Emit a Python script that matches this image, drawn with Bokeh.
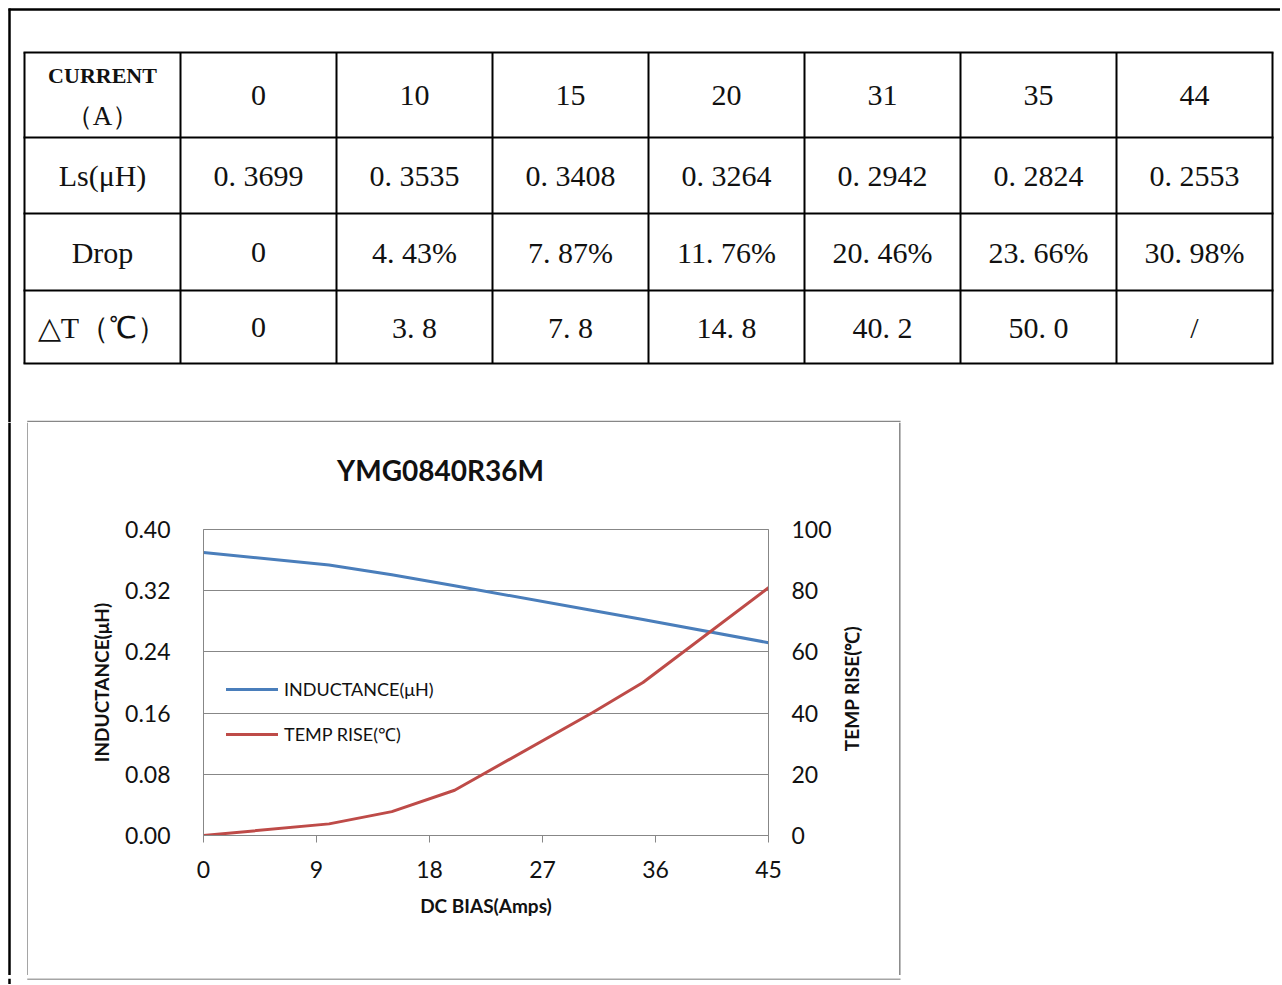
import math
from bokeh.plotting import figure
from bokeh.models import Range1d, LinearAxis, FixedTicker, NumeralTickFormatter
from bokeh.layouts import column, row
from bokeh.embed import file_html
from bokeh.resources import INLINE
from bokeh.core.properties import value

# ---------------- data (table) ----------------
current_A = [0, 10, 15, 20, 31, 35, 44]
ls_uH = [0.3699, 0.3535, 0.3408, 0.3264, 0.2942, 0.2824, 0.2553]
drop_pct = [0, 4.43, 7.87, 11.76, 20.46, 23.66, 30.98]
delta_T = [0, 3.8, 7.8, 14.8, 40.2, 50.0, None]
row_labels = ["Ls(μH)", "Drop", "△T（℃）"]

# ---------------- data (chart) ----------------
bias_A = [0, 10, 15, 20, 31, 35, 45]
inductance_uH = [0.3699, 0.3535, 0.3408, 0.3264, 0.2942, 0.2824, 0.2520]
temp_rise_C = [0, 3.8, 7.8, 14.8, 40.2, 50.0, 81.0]
x_ticks = [0, 9, 18, 27, 36, 45]
left_ticks = [0.0, 0.08, 0.16, 0.24, 0.32, 0.40]
right_ticks = [0, 20, 40, 60, 80, 100]
chart_title = "YMG0840R36M"
right_label = "TEMP RISE(℃)"


def fmt_ls(v):
    return f"{v:.4f}".replace(".", ". ")


def fmt_drop(v):
    return "0" if v == 0 else f"{v:.2f}%".replace(".", ". ")


def fmt_dt(v):
    if v is None:
        return "/"
    return "0" if v == 0 else f"{v:.1f}".replace(".", ". ")


def no_align(fig):
    if hasattr(fig, "frame_align"):
        fig.frame_align = False


def canvas_fig(x0, x1, y0, y1):
    """A blank figure whose data coordinates are page pixels (y downwards)."""
    f = figure(width=x1 - x0, height=y1 - y0, x_range=Range1d(x0, x1),
               y_range=Range1d(y1, y0), output_backend="svg",
               toolbar_location=None, min_border=0)
    f.axis.visible = False
    f.grid.visible = False
    f.outline_line_color = None
    f.background_fill_color = "white"
    f.border_fill_color = "white"
    no_align(f)
    return f


GRAY = "#878787"
FONT = "Lato"
PAGE_W = 1280
TOP_H = 422          # table block height
TITLE_B = 500        # bottom of the chart-title strip
CHART_B = 975        # bottom of the chart block
BOT_H = 9
BOX_L, BOX_R, BOX_T, BOX_B = 27.5, 899.3, 421, 975.5   # chart-area border (page px)

# ---------------- table block ----------------
tp = canvas_fig(0, PAGE_W, 0, TOP_H)
tp.segment(x0=[8, 9], y0=[9, 8], x1=[PAGE_W, 9], y1=[9, TOP_H],
           line_color="black", line_width=2.5)
tp.segment(x0=[BOX_L - 0.75], y0=[BOX_T], x1=[BOX_R + 0.75], y1=[BOX_T],
           line_color=GRAY, line_width=1.5)

col_x = [24 + 156 * i for i in range(9)]
row_y = [52, 137, 213, 290, 363]
tp.segment(x0=col_x, y0=[row_y[0]] * len(col_x), x1=col_x, y1=[row_y[-1]] * len(col_x),
           line_color="black", line_width=2)
tp.segment(x0=[col_x[0] - 1] * len(row_y), y0=row_y, x1=[col_x[-1] + 1] * len(row_y), y1=row_y,
           line_color="black", line_width=2)

xs, ys, txt = [], [], []
rows = [[str(c) for c in current_A],
        [fmt_ls(v) for v in ls_uH],
        [fmt_drop(v) for v in drop_pct],
        [fmt_dt(v) for v in delta_T]]
for r, vals in enumerate(rows):
    yc = (row_y[r] + row_y[r + 1]) / 2
    for c, t in enumerate(vals):
        xs.append((col_x[c + 1] + col_x[c + 2]) / 2)
        ys.append(yc)
        txt.append(t)
for r, lab in enumerate(row_labels):
    xs.append((col_x[0] + col_x[1]) / 2)
    ys.append((row_y[r + 1] + row_y[r + 2]) / 2)
    txt.append(lab)
tp.text(x=xs, y=ys, text=txt, text_align="center", text_baseline="middle",
        text_font=value("Liberation Serif"), text_font_size="30px", text_color="#111111")
hx = (col_x[0] + col_x[1]) / 2
tp.text(x=[hx], y=[75], text=["CURRENT"], text_align="center", text_baseline="middle",
        text_font=value("Liberation Serif"), text_font_size="22px",
        text_font_style="bold", text_color="#111111")
tp.text(x=[hx], y=[115], text=["（A）"], text_align="center", text_baseline="middle",
        text_font=value("Liberation Serif"), text_font_size="27px", text_color="#111111")

# ---------------- left strip (frame line + chart border left) ----------------
SP_R = 28
sp = canvas_fig(0, SP_R, TOP_H, CHART_B)
sp.segment(x0=[9, BOX_L], y0=[TOP_H, TOP_H], x1=[9, BOX_L], y1=[CHART_B, CHART_B],
           line_color=["black", GRAY], line_width=[2.5, 1.5])

# ---------------- chart title strip ----------------
P_R = 835
tf = canvas_fig(SP_R, P_R, TOP_H, TITLE_B)
tf.text(x=[440], y=[469], text=[chart_title], text_align="center", text_baseline="middle",
        text_font=value(FONT), text_font_size="28px", text_font_style="bold",
        text_color="#111111")

# ---------------- chart ----------------
FRAME_L, FRAME_R, FRAME_T, FRAME_B = 203, 768, 529, 835
p = figure(frame_width=FRAME_R - FRAME_L, frame_height=FRAME_B - FRAME_T,
           x_range=Range1d(0, 45), y_range=Range1d(0, 0.40),
           output_backend="svg", toolbar_location=None,
           min_border_left=FRAME_L - SP_R, min_border_right=P_R - FRAME_R,
           min_border_top=FRAME_T - TITLE_B, min_border_bottom=CHART_B - FRAME_B,
           x_axis_label="DC BIAS(Amps)", y_axis_label="INDUCTANCE(μH)")
no_align(p)
p.extra_y_ranges = {"temp": Range1d(0, 100)}
p.background_fill_color = "white"
p.border_fill_color = "white"
p.outline_line_color = GRAY
p.outline_line_width = 1

p.xgrid.visible = False
p.ygrid.ticker = FixedTicker(ticks=left_ticks)
p.ygrid.grid_line_color = GRAY
p.ygrid.grid_line_width = 1

xa = p.xaxis[0]
xa.ticker = FixedTicker(ticks=x_ticks)
xa.axis_line_color = GRAY
xa.major_tick_line_color = GRAY
xa.major_tick_in = 0
xa.major_tick_out = 7
xa.minor_tick_line_color = None
xa.major_label_standoff = 18
xa.axis_label_standoff = 13

ya = p.yaxis[0]
ya.ticker = FixedTicker(ticks=left_ticks)
ya.formatter = NumeralTickFormatter(format="0.00")
ya.axis_line_color = GRAY
ya.major_tick_line_color = None
ya.major_tick_in = 0
ya.major_tick_out = 0
ya.minor_tick_line_color = None
ya.major_label_standoff = 33
ya.axis_label_standoff = 9

ra = LinearAxis(y_range_name="temp")
ra.ticker = FixedTicker(ticks=right_ticks)
ra.axis_line_color = GRAY
ra.major_tick_line_color = None
ra.major_tick_in = 0
ra.major_tick_out = 0
ra.minor_tick_line_color = None
ra.major_label_standoff = 23
p.add_layout(ra, "right")

for ax in (xa, ya, ra):
    ax.major_label_text_font = FONT
    ax.major_label_text_font_size = "23px"
    ax.major_label_text_color = "#111111"
    ax.axis_label_text_font = FONT
    ax.axis_label_text_font_size = "19px"
    ax.axis_label_text_font_style = "bold"
    ax.axis_label_text_color = "#111111"

p.line(bias_A, inductance_uH, line_color="#4A7EBB", line_width=3, line_cap="round",
       line_join="round", legend_label="INDUCTANCE(μH)")
p.line(bias_A, temp_rise_C, y_range_name="temp", line_color="#BE4B48", line_width=3,
       line_cap="round", line_join="round", legend_label="TEMP RISE(℃)")

lg = p.legend[0]
lg.location = (23, 89)
lg.glyph_width = 52
lg.glyph_height = 22
lg.label_height = 22
lg.spacing = 22
lg.padding = 0
lg.margin = 0
lg.label_standoff = 6
lg.label_text_font = FONT
lg.label_text_font_size = "18px"
lg.label_text_color = "#111111"
lg.border_line_color = None
lg.background_fill_alpha = 0

# ---------------- right strip: secondary axis title + chart border right ----------------
RP_R = 908
rp = canvas_fig(P_R, RP_R, TOP_H, CHART_B)
rp.text(x=[851], y=[(FRAME_T + FRAME_B) / 2 + 6], text=[right_label], angle=math.pi / 2,
        text_align="center", text_baseline="middle", text_font=value(FONT),
        text_font_size="19px", text_font_style="bold", text_color="#111111")
rp.segment(x0=[BOX_R], y0=[TOP_H], x1=[BOX_R], y1=[CHART_B], line_color=GRAY, line_width=1.5)

# ---------------- bottom strip ----------------
bf = canvas_fig(0, PAGE_W, CHART_B, CHART_B + BOT_H)
bf.segment(x0=[9, BOX_L - 0.75], y0=[CHART_B, BOX_B], x1=[9, BOX_R + 0.75],
           y1=[CHART_B + BOT_H, BOX_B], line_color=["black", GRAY], line_width=[2.5, 1.5])

layout = column(tp, row(sp, column(tf, p, spacing=0), rp, spacing=0), bf, spacing=0)
open("out.html", "w").write(file_html(layout, INLINE))
